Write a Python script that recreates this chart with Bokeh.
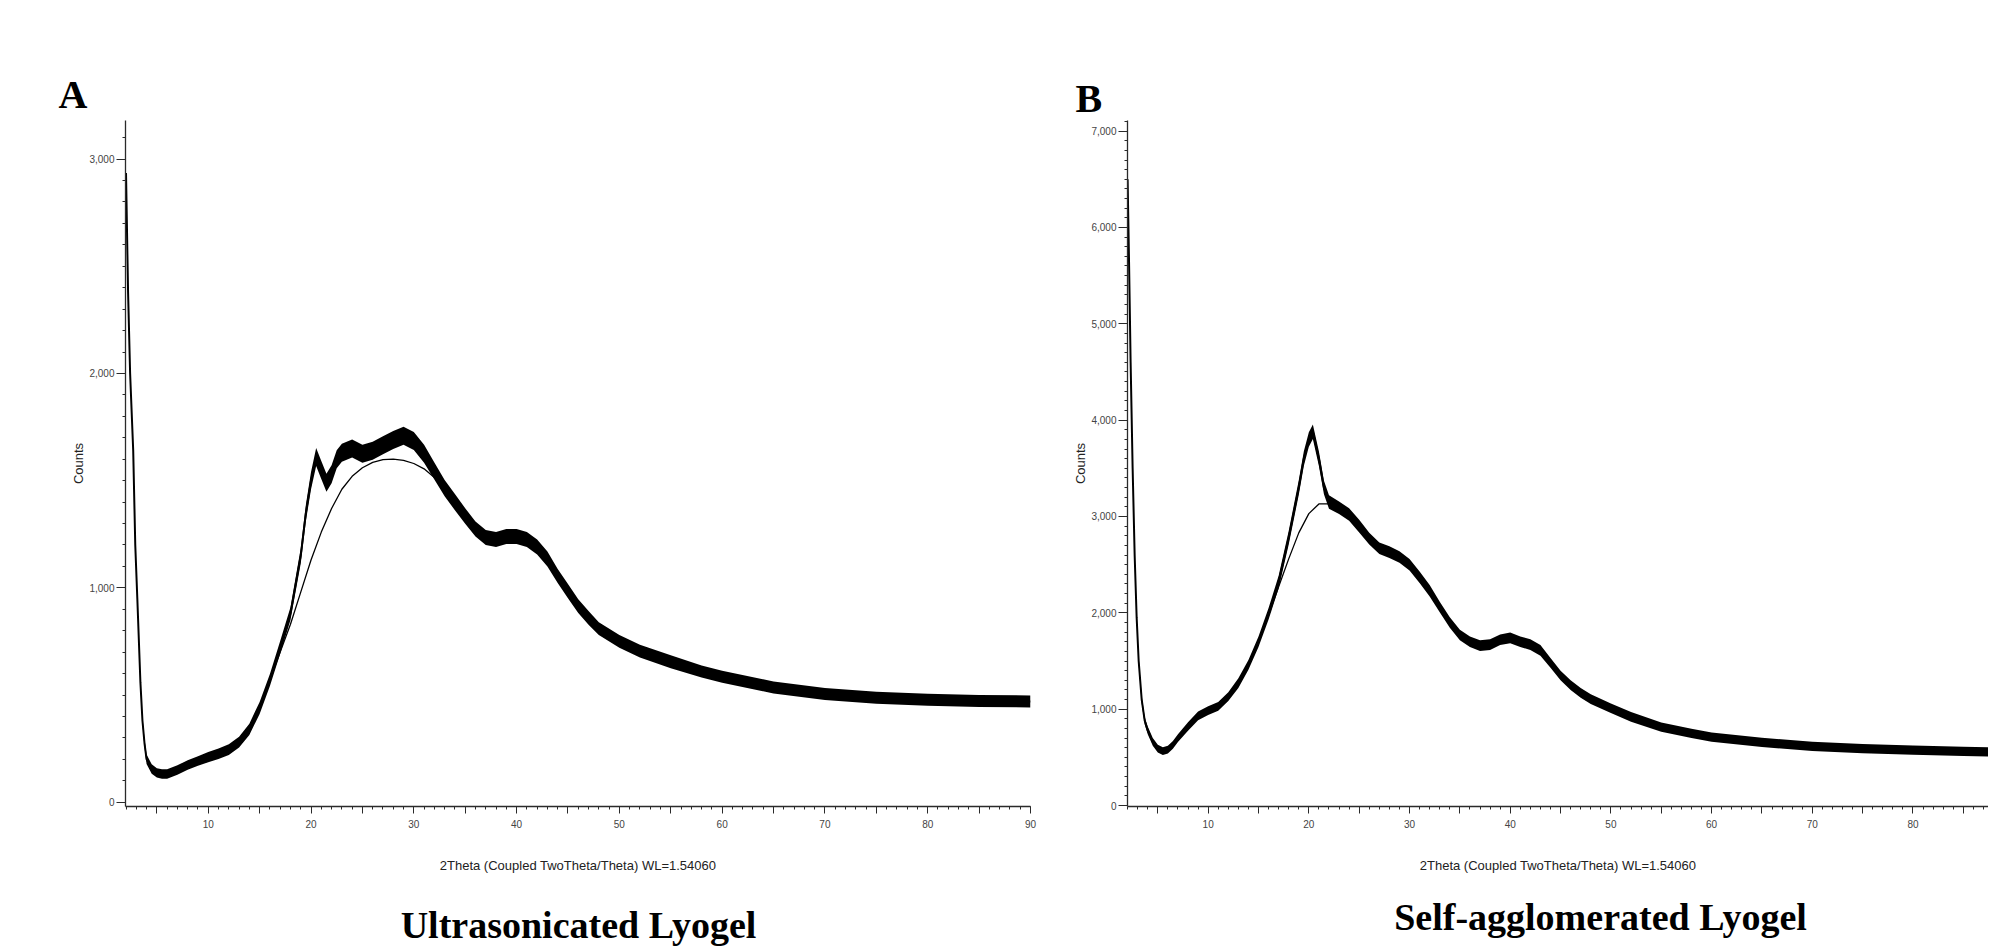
from bokeh.plotting import figure
from bokeh.layouts import row, column
from bokeh.models import Range1d, FixedTicker, NumeralTickFormatter, Title, Label, ColumnDataSource
from bokeh.embed import file_html
from bokeh.resources import INLINE

# ---------------- data ----------------
x_label_text = "2Theta (Coupled TwoTheta/Theta) WL=1.54060"
y_label_text = "Counts"
caption_a = "Ultrasonicated Lyogel"
caption_b = "Self-agglomerated Lyogel"

x_ticks = [5, 10, 15, 20, 25, 30, 35, 40, 45, 50, 55, 60, 65, 70, 75, 80, 85, 90]
x_minor = list(range(1, 92))
a_y_ticks = [0, 1000, 2000, 3000]
b_y_ticks = [0, 1000, 2000, 3000, 4000, 5000, 6000, 7000]
y_minor = list(range(0, 7200, 100))

a_theta = [2.0, 2.2, 2.4, 2.7, 2.9, 3.1, 3.4, 3.6, 3.8, 4.0,
           4.5, 5.0, 5.5, 6.0, 7.0, 8.0, 9.0, 10.0, 11.0, 12.0,
           13.0, 14.0, 15.0, 16.0, 17.0, 18.0, 19.0, 19.5, 20.0, 20.5,
           21.0, 21.5, 22.0, 22.5, 23.0, 24.0, 25.0, 26.0, 27.0, 28.0,
           29.0, 30.0, 31.0, 32.0, 33.0, 34.0, 35.0, 36.0, 37.0, 38.0,
           39.0, 40.0, 41.0, 42.0, 43.0, 44.0, 45.0, 46.0, 47.0, 48.0,
           50.0, 52.0, 55.0, 58.0, 60.0, 65.0, 70.0, 75.0, 80.0, 85.0,
           90.0]
a_counts = [2935, 2380, 2000, 1640, 1200, 950, 560, 380, 275, 200,
            155, 137, 132, 132, 150, 174, 192, 210, 226, 245,
            280, 340, 440, 570, 722, 880, 1150, 1350, 1500, 1610,
            1550, 1490, 1530, 1600, 1630, 1650, 1625, 1640, 1665, 1690,
            1710, 1685, 1625, 1545, 1465, 1400, 1335, 1275, 1235, 1225,
            1240, 1240, 1225, 1190, 1135, 1055, 985, 915, 860, 810,
            750, 705, 655, 610, 585, 535, 505, 487, 478, 472,
            470]
a_noise = [10, 10, 10, 10, 10, 12, 15, 18, 20, 22,
           22, 22, 22, 22, 22, 22, 22, 24, 24, 25,
           25, 26, 28, 28, 30, 30, 35, 38, 40, 42,
           42, 42, 42, 42, 42, 42, 42, 42, 42, 42,
           42, 42, 42, 40, 38, 38, 36, 35, 35, 35,
           35, 35, 35, 35, 35, 33, 33, 32, 32, 30,
           30, 30, 30, 28, 28, 28, 28, 28, 28, 28,
           28]
a_fit_theta = [15, 16, 17, 18, 19, 20, 21, 22, 23, 24, 25, 26, 27, 28, 29, 30, 31, 32, 33, 34, 35]
a_fit_counts = [440, 570, 700, 830, 980, 1130, 1260, 1370, 1460, 1520, 1560,
                1585, 1598, 1600, 1595, 1580, 1555, 1515, 1460, 1400, 1335]

b_theta = [2.0, 2.15, 2.3, 2.5, 2.7, 2.9, 3.1, 3.4, 3.7, 4.0,
           4.5, 5.0, 5.5, 6.0, 6.5, 7.0, 8.0, 9.0, 10.0, 11.0,
           12.0, 13.0, 14.0, 15.0, 16.0, 17.0, 18.0, 19.0, 19.5, 20.0,
           20.4, 21.0, 21.5, 22.0, 23.0, 24.0, 25.0, 26.0, 27.0, 28.0,
           29.0, 30.0, 31.0, 32.0, 33.0, 34.0, 35.0, 36.0, 37.0, 38.0,
           39.0, 40.0, 41.0, 42.0, 43.0, 44.0, 45.0, 46.0, 47.0, 48.0,
           50.0, 52.0, 55.0, 58.0, 60.0, 65.0, 70.0, 75.0, 80.0, 85.0,
           88.0]
b_counts = [6500, 5600, 4600, 3500, 2600, 1950, 1500, 1100, 880, 780,
            660, 590, 565, 580, 630, 700, 820, 930, 985, 1030,
            1130, 1270, 1460, 1700, 1990, 2320, 2780, 3300, 3600, 3800,
            3880, 3600, 3300, 3150, 3090, 3020, 2900, 2770, 2670, 2630,
            2580, 2500, 2370, 2230, 2060, 1900, 1770, 1700, 1660, 1670,
            1720, 1740, 1700, 1670, 1610, 1480, 1350, 1250, 1170, 1105,
            1010, 920, 815, 750, 710, 655, 615, 590, 575, 562,
            555]
b_noise = [20, 20, 20, 25, 30, 35, 40, 40, 40, 40,
           40, 40, 40, 40, 40, 40, 45, 45, 45, 45,
           45, 50, 50, 55, 60, 65, 70, 75, 75, 75,
           75, 75, 70, 70, 65, 65, 65, 60, 60, 60,
           60, 60, 60, 60, 55, 55, 55, 55, 55, 55,
           55, 55, 55, 55, 55, 50, 50, 50, 50, 50,
           50, 50, 48, 48, 48, 48, 48, 48, 48, 48,
           48]
b_fit_theta = [15, 16, 17, 18, 19, 20, 21, 22, 23, 24, 25]
b_fit_counts = [1700, 1980, 2270, 2560, 2830, 3030, 3130, 3130, 3080, 3010, 2900]

AX = "#2a2a2a"
SANS = "Liberation Sans"
SERIF = "Liberation Serif"
TOP_H = 895
CAP_H = 57


def panel(theta, counts, noise, fit_theta, fit_counts, xr, yr, yticks,
          width, mbl, mbr, mbt, mbb):
    p = figure(width=width, height=TOP_H, output_backend="svg", toolbar_location=None,
               x_range=Range1d(*xr), y_range=Range1d(*yr),
               min_border_left=mbl, min_border_right=mbr,
               min_border_top=mbt, min_border_bottom=mbb)
    p.outline_line_color = None
    p.grid.visible = False
    p.background_fill_color = "white"
    p.border_fill_color = "white"

    src = ColumnDataSource(dict(
        x=theta, y=counts,
        lo=[c - n for c, n in zip(counts, noise)],
        hi=[c + n for c, n in zip(counts, noise)]))
    p.varea(x="x", y1="lo", y2="hi", source=src, fill_color="black")
    p.line(x="x", y="y", source=src, line_color="black", line_width=2)
    p.line(x=fit_theta, y=fit_counts, line_color="black", line_width=1.3)

    for ax in (p.xaxis[0], p.yaxis[0]):
        ax.axis_line_color = AX
        ax.axis_line_width = 1.3
        ax.major_tick_line_color = AX
        ax.minor_tick_line_color = AX
        ax.major_tick_in = 0
        ax.minor_tick_in = 0
        ax.minor_tick_out = 3
        ax.major_label_text_font = SANS
        ax.major_label_text_font_size = "10px"
        ax.major_label_text_color = "#444444"
        ax.axis_label_text_font = SANS
        ax.axis_label_text_font_size = "13px"
        ax.axis_label_text_font_style = "normal"
        ax.axis_label_text_color = "#222222"

    xa = p.xaxis[0]
    xa.ticker = FixedTicker(ticks=x_ticks, minor_ticks=x_minor)
    xa.major_label_overrides = {t: "" for t in x_ticks if t % 10 != 0}
    xa.major_tick_out = 7
    xa.major_label_standoff = 6
    xa.axis_label = x_label_text
    xa.axis_label_standoff = 27

    ya = p.yaxis[0]
    ya.ticker = FixedTicker(ticks=yticks, minor_ticks=y_minor)
    ya.formatter = NumeralTickFormatter(format="0,0")
    ya.major_tick_out = 9
    ya.major_label_standoff = 2
    ya.axis_label = y_label_text
    ya.axis_label_standoff = 0
    return p


def caption_strip(width, text, cx, cy):
    c = figure(width=width, height=CAP_H, output_backend="svg", toolbar_location=None,
               x_axis_location=None, y_axis_location=None,
               x_range=Range1d(0, 1), y_range=Range1d(0, 1),
               min_border_left=0, min_border_right=0, min_border_top=0, min_border_bottom=0)
    c.outline_line_color = None
    c.grid.visible = False
    c.add_layout(Label(x=cx, y=cy, x_units="screen", y_units="screen", text=text,
                       text_font=SERIF, text_font_style="bold", text_font_size="38px",
                       text_align="center", text_baseline="middle", text_color="black"))
    return c


pa = panel(a_theta, a_counts, a_noise, a_fit_theta, a_fit_counts,
           (1.95, 90.0), (-20, 3180), a_y_ticks, 1048, 125, 18, 117, TOP_H - 811)
pb = panel(b_theta, b_counts, b_noise, b_fit_theta, b_fit_counts,
           (1.99, 87.5), (-10, 7110), b_y_ticks, 940, 79, 0, 120, TOP_H - 806)

# panel letters above the frames
pa.add_layout(Title(text="A", align="left", offset=-67, standoff=8,
                    text_font=SERIF, text_font_style="bold", text_font_size="40px",
                    text_color="black"), "above")
pb.add_layout(Title(text="B", align="left", offset=-52, standoff=0,
                    text_font=SERIF, text_font_style="bold", text_font_size="40px",
                    text_color="black"), "above")

# captions in strips under the charts (label y measured up from the strip bottom)
ca = caption_strip(1048, caption_a, 578, CAP_H - (924 - TOP_H))
cb = caption_strip(940, caption_b, 1600 - 1048, CAP_H - (916 - TOP_H))

layout = column(row(pa, pb), row(ca, cb))
open("out.html", "w").write(file_html(layout, INLINE))
